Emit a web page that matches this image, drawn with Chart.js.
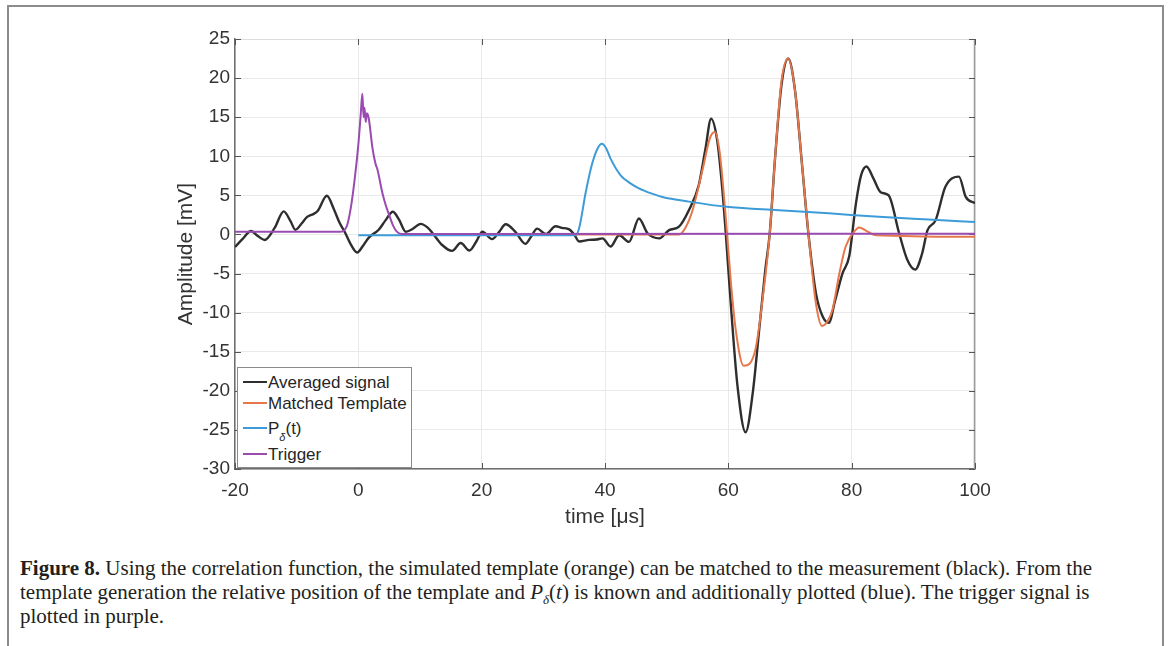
<!DOCTYPE html>
<html>
<head>
<meta charset="utf-8">
<script src="https://cdn.jsdelivr.net/npm/chart.js@4.4.1/dist/chart.umd.min.js"></script>
<style>
  html, body { margin: 0; padding: 0; background: #fff; }
  body { width: 1170px; height: 646px; position: relative; overflow: hidden; }
  #frame { position: absolute; left: 7px; top: 5px; width: 1157px; height: 700px;
           border: 2px solid #8c8c8c; border-bottom: none; box-sizing: border-box; }
  #wrap { position: absolute; left: 0; top: 0; width: 1170px; height: 540px; }
  #legend { position: absolute; left: 237px; top: 367px; width: 175px; height: 101px;
            background: #fff; border: 1px solid #8a8a8a; box-sizing: border-box;
            font-family: "Liberation Sans", Arial, sans-serif; font-size: 17px; color: #262626; }
  .row { position: absolute; left: 5px; height: 20px; }
  .row .ln { position: absolute; left: 0; width: 24px; height: 2px; }
  .row .tx { position: absolute; left: 25px; white-space: nowrap; line-height: 1; }
  #caption { position: absolute; left: 20px; top: 556px; font-family: "Liberation Serif", "Times New Roman", serif;
             font-size: 21px; color: #231f20; line-height: 24px; white-space: nowrap; }
  #caption i { font-style: italic; }
</style>
</head>
<body>
<div id="frame"></div>
<div id="wrap"><canvas id="c" width="1170" height="540"></canvas></div>
<div id="legend"></div>
<div id="caption">
  <div><b>Figure 8.</b> Using the correlation function, the simulated template (orange) can be matched to the measurement (black). From the</div>
  <div>template generation the relative position of the template and <i>P</i><sub style="font-size:13px;line-height:0"><i>δ</i></sub>(<i>t</i>) is known and additionally plotted (blue). The trigger signal is</div>
  <div>plotted in purple.</div>
</div>
<script>
// ---- data (time in µs, amplitude in mV) ----
const seriesNames = ["Averaged signal", "Matched Template", "P_δ(t)", "Trigger"];
const seriesColors = ["#2e2e2e", "#e5774a", "#3d9bd8", "#9a4bb0"];
const seriesWidths = [2.4, 2, 2, 2];

const avgT = [-20,-18.8,-17.4,-16.3,-15.2,-13.6,-12.1,-11.0,-10.2,-9.2,-8.3,-7.3,-6.6,-5.1,-4.0,-3.1,-2.0,-1.2,-0.2,0.8,1.7,3.3,4.4,5.6,6.6,7.7,8.8,10.1,11.2,12.1,13.6,15.2,16.6,18.0,19.2,20.1,21.7,22.8,23.9,25.5,27.1,28.0,29.0,30.4,32.0,33.0,34.2,35.0,35.8,37.4,38.6,39.6,40.9,42.3,43.9,45.5,46.9,48.8,50.4,52.0,53.6,55.2,56.3,57.2,58.2,59.0,59.6,60.5,61.5,62.8,64.0,65.0,66.0,66.7,67.6,68.6,69.7,70.8,72.0,73.0,74.2,75.3,76.3,77.3,78.5,79.6,80.7,81.5,82.4,83.5,84.7,86.0,87.7,89.0,90.3,91.4,92.3,93.6,95.2,97.4,98.5,100];
const avgV = [-1.6,-0.6,0.45,-0.2,-0.7,0.8,2.95,1.7,0.6,1.4,2.25,2.6,3.0,4.95,3.3,1.6,0.0,-1.3,-2.3,-1.4,-0.4,0.6,1.8,2.9,1.9,0.35,0.7,1.35,0.9,0.1,-1.35,-2.1,-1.1,-2.05,-0.8,0.35,-0.6,0.3,1.3,0.3,-1.2,-0.3,0.75,0.05,1.05,0.85,0.65,0.0,-0.9,-0.7,-0.65,-0.5,-1.55,-0.1,-0.95,2.05,0.15,-0.5,0.55,1.0,3.1,6.3,11.0,14.8,12.0,6.0,0.0,-10.0,-19.5,-25.3,-20.0,-12.2,-4.5,0.0,10.0,19.0,22.5,18.5,8.5,0.0,-7.5,-10.5,-11.3,-8.5,-5.0,-2.8,4.0,7.5,8.7,7.2,5.4,5.0,0.15,-3.2,-4.5,-2.5,0.55,1.8,6.1,7.4,4.8,4.0];

const tplT = [35,52.0,53.0,54.2,55.8,57.0,57.8,58.6,59.6,60.4,61.2,62.5,64.4,65.6,66.7,67.6,68.6,69.7,70.8,72.0,73.0,74.2,75.2,76.0,76.9,78.0,79.0,80.4,81.2,82.5,84.0,100];
const tplV = [0,0.0,0.8,3.1,8.2,12.3,13.1,10.5,2.0,-6.0,-12.2,-16.8,-14.7,-8.0,0.0,10.0,19.5,22.5,18.5,8.5,0.0,-8.8,-11.7,-11.2,-9.6,-5.0,-1.6,0.35,0.9,0.4,-0.1,-0.3];

const pdT = [0,35.2,35.8,36.9,37.9,38.8,39.5,40.2,40.9,42.5,44.0,45.5,47.5,49.3,53.6,60.1,68.2,76.3,84.4,92.5,100];
const pdV = [-0.1,-0.1,0.8,5.5,9.0,11.0,11.6,11.0,9.7,7.6,6.6,5.9,5.25,4.8,4.2,3.5,3.1,2.7,2.25,1.9,1.6];

const trgT = [-20,-3.0,-1.9,-1.2,-0.6,0.0,0.4,0.65,0.85,1.0,1.2,1.4,1.7,2.3,2.8,3.1,3.9,4.5,5.0,5.6,6.2,7.0,100];
const trgV = [0.35,0.35,1.0,3.5,7.0,11.5,15.5,18.0,15.0,16.2,14.4,15.5,14.8,11.0,9.0,8.3,5.3,3.6,2.5,1.2,0.4,0.05,0.1];

const xTicks = [-20,0,20,40,60,80,100];
const yTicks = [25,20,15,10,5,0,-5,-10,-15,-20,-25,-30];

function pts(ts, vs) { return ts.map((t, i) => ({x: t, y: vs[i]})); }
const seriesData = [pts(avgT, avgV), pts(tplT, tplV), pts(pdT, pdV), pts(trgT, trgV)];

// ---- legend (html) ----
const legendRows = [
  {top: 14, label: "Averaged signal"},
  {top: 35, label: "Matched Template"},
  {top: 60, label: 'P<sub style="font-size:11px;position:relative;top:3px"><i>δ</i></sub>(t)'},
  {top: 86, label: "Trigger"}
];
const lg = document.getElementById('legend');
legendRows.forEach((r, i) => {
  const d = document.createElement('div');
  d.className = 'row';
  d.style.top = (r.top - 10) + 'px';
  d.innerHTML = '<div class="ln" style="top:9px;background:' + seriesColors[i] + '"></div>' +
                '<div class="tx" style="top:2px">' + r.label + '</div>';
  lg.appendChild(d);
});

// ---- box + inward tick marks ----
const boxPlugin = {
  id: 'box',
  beforeDatasetsDraw(chart) {
    const {ctx, chartArea: a, scales: {x, y}} = chart;
    ctx.save();
    ctx.lineWidth = 1;
    ctx.strokeStyle = '#dcdcdc';
    ctx.beginPath(); ctx.moveTo(a.left, a.top + 0.5); ctx.lineTo(a.right, a.top + 0.5); ctx.stroke();
    ctx.strokeStyle = '#9a9a9a';
    ctx.lineWidth = 1.5;
    ctx.beginPath(); ctx.moveTo(a.right - 0.5, a.top); ctx.lineTo(a.right - 0.5, a.bottom); ctx.stroke();
    ctx.strokeStyle = '#555';
    ctx.lineWidth = 1;
    const L = 6;
    xTicks.forEach(t => {
      const px = Math.round(x.getPixelForValue(t)) + 0.5;
      ctx.beginPath(); ctx.moveTo(px, a.bottom); ctx.lineTo(px, a.bottom - L); ctx.stroke();
      ctx.beginPath(); ctx.moveTo(px, a.top); ctx.lineTo(px, a.top + L); ctx.stroke();
    });
    yTicks.forEach(v => {
      const py = Math.round(y.getPixelForValue(v)) + 0.5;
      ctx.beginPath(); ctx.moveTo(a.left, py); ctx.lineTo(a.left + L, py); ctx.stroke();
      ctx.beginPath(); ctx.moveTo(a.right, py); ctx.lineTo(a.right - L, py); ctx.stroke();
    });
    ctx.restore();
  }
};

const fam = '"Liberation Sans", Arial, sans-serif';
new Chart(document.getElementById('c'), {
  type: 'scatter',
  data: {
    datasets: seriesNames.map((n, i) => ({
      label: n,
      data: seriesData[i],
      showLine: true,
      borderColor: seriesColors[i],
      backgroundColor: seriesColors[i],
      borderWidth: seriesWidths[i],
      pointRadius: 0,
      cubicInterpolationMode: 'monotone',
      order: 4 - i
    }))
  },
  options: {
    responsive: false,
    animation: false,
    devicePixelRatio: 1,
    layout: { padding: { left: 174, top: 39, right: 195, bottom: 10 } },
    plugins: { legend: { display: false }, tooltip: { enabled: false } },
    scales: {
      x: {
        type: 'linear', min: -20, max: 100,
        afterBuildTicks: s => { s.ticks = xTicks.map(v => ({value: v})); },
        afterFit: s => { s.height = 61; },
        grid: { color: '#e9e9e9', drawTicks: false },
        border: { color: '#6e6e6e', width: 1.5 },
        ticks: { color: '#333', font: { family: fam, size: 19 }, padding: 10, maxRotation: 0 },
        title: { display: true, text: 'time [μs]', color: '#333', font: { family: fam, size: 21 }, padding: 0 }
      },
      y: {
        type: 'linear', min: -30, max: 25,
        afterBuildTicks: s => { s.ticks = yTicks.map(v => ({value: v})); },
        afterFit: s => { s.width = 61; },
        grid: { color: '#e9e9e9', drawTicks: false },
        border: { color: '#6e6e6e', width: 1.5 },
        ticks: { color: '#333', font: { family: fam, size: 19 }, padding: 5 },
        title: { display: true, text: 'Amplitude [mV]', color: '#333', font: { family: fam, size: 21 }, padding: 0 }
      }
    }
  },
  plugins: [boxPlugin]
});
</script>
</body>
</html>
